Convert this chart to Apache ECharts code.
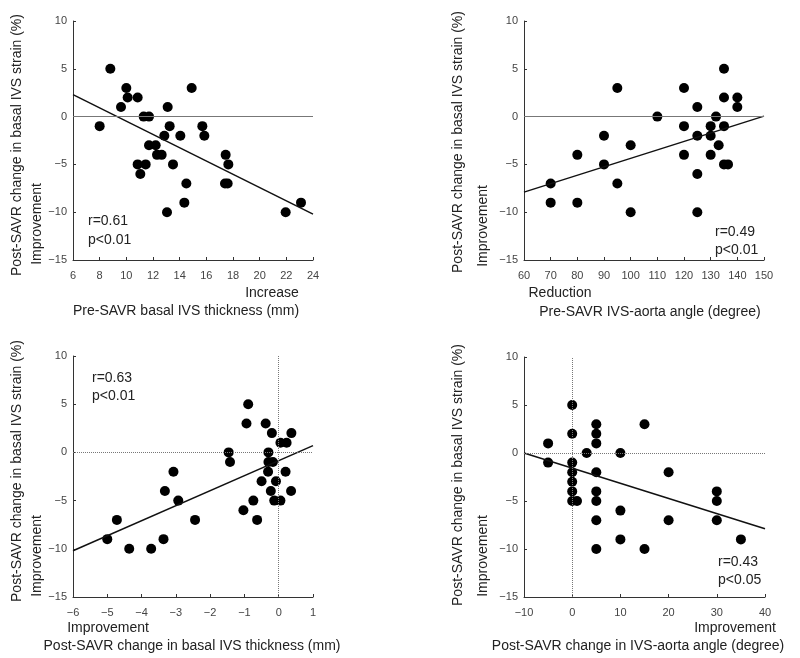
<!DOCTYPE html>
<html>
<head>
<meta charset="utf-8">
<script src="https://cdn.jsdelivr.net/npm/echarts@6/dist/echarts.min.js"></script>
<style>html,body{margin:0;padding:0;background:#fff}#c{width:800px;height:658px}</style>
</head>
<body>
<div id="c"></div>
<script>
// Panel A: Pre-SAVR basal IVS thickness (mm) vs change in strain
var aX = [8.8, 8, 10, 10.1, 9.6, 10.85, 11.3, 11.7, 11.7, 12.2, 12.3, 12.65, 10.85, 11.45, 11.05, 13.1, 13.25, 12.85, 14.05, 13.5, 14.9, 15.7, 15.85, 14.5, 14.35, 13.05, 17.45, 17.65, 17.4, 17.6, 21.95, 23.1];
var aY = [5, -1, 3, 2, 1, 2, 0, 0, -3, -3, -4, -4, -5, -5, -6, 1, -1, -2, -2, -5, 3, -1, -2, -7, -9, -10, -4, -5, -7, -7, -10, -9];
var aLineX = [6, 24];
var aLineY = [2.3, -10.2];

// Panel B: Pre-SAVR IVS-aorta angle (degree)
var bX = [70, 70, 80, 80, 90, 90, 95, 95, 100, 100, 110, 120, 120, 120, 125, 125, 125, 125, 130, 130, 130, 132, 133, 135, 135, 135, 135, 136.5, 140, 140];
var bY = [-7, -9, -4, -9, -2, -5, 3, -7, -3, -10, 0, 3, -1, -4, 1, -2, -6, -10, -1, -2, -4, 0, -3, 5, 2, -1, -5, -5, 2, 1];
var bLineX = [60, 150];
var bLineY = [-7.9, 0.05];

// Panel C: Post-SAVR change in basal IVS thickness (mm)
var cX = [-5, -4.72, -4.36, -3.72, -3.36, -3.32, -3.07, -2.93, -2.44, -1.46, -1.42, -0.89, -0.94, -1.03, -0.74, -0.63, -0.5, -0.38, -0.2, -0.3, -0.3, -0.17, -0.31, -0.23, -0.08, -0.13, 0.05, 0.05, 0.23, 0.2, 0.37, 0.36];
var cY = [-9, -7, -10, -10, -9, -4, -2, -5, -7, 0, -1, 5, 3, -6, -5, -7, -3, 3, 2, 0, -1, -1, -2, -4, -3, -5, -5, 1, 1, -2, 2, -4];
var cLineX = [-6, 1];
var cLineY = [-10.2, 0.7];

// Panel D: Post-SAVR change in IVS-aorta angle (degree)
var dX = [-5, -5, 0, 0, 0, 0, 0, 0, 0, 1, 3, 5, 5, 5, 5, 5, 5, 5, 5, 10, 10, 10, 15, 15, 20, 20, 30, 30, 30, 35];
var dY = [1, -1, 5, 2, -1, -2, -3, -4, -5, -5, 0, 3, 2, 1, -2, -4, -5, -7, -10, 0, -6, -9, 3, -10, -2, -7, -4, -5, -7, -9];
var dLineX = [-10, 40];
var dLineY = [0, -7.9];

var yTicks = {min: -15, max: 10, interval: 5};
var xTicks = [
  {min: 6, max: 24, interval: 2},
  {min: 60, max: 150, interval: 10},
  {min: -6, max: 1, interval: 1},
  {min: -10, max: 40, interval: 10}
];

function pairs(xs, ys) { return xs.map(function (x, i) { return [x, ys[i]]; }); }

var FONT = '"Liberation Sans", Arial, sans-serif';
var grids = [
  {left: 73, top: 21, width: 240, height: 239},
  {left: 524, top: 21, width: 240, height: 239},
  {left: 73, top: 356, width: 240, height: 241},
  {left: 524, top: 357, width: 241, height: 240}
];
function minusFmt(v) { return String(v).replace('-', '\u2212'); }
var axisCommon = {
  axisLine: {show: true, onZero: false, lineStyle: {color: '#333', width: 1}},
  axisTick: {show: true, inside: true, length: 3, lineStyle: {color: '#333'}},
  splitLine: {show: false},
  axisLabel: {color: '#444', fontSize: 11, fontFamily: FONT, formatter: minusFmt}
};
var xAxes = xTicks.map(function (t, i) {
  return Object.assign({type: 'value', gridIndex: i, min: t.min, max: t.max, interval: t.interval}, axisCommon,
    {axisLabel: Object.assign({}, axisCommon.axisLabel, {margin: 10})});
});
var yAxes = [0, 1, 2, 3].map(function (i) {
  return Object.assign({type: 'value', gridIndex: i, min: yTicks.min, max: yTicks.max, interval: yTicks.interval}, axisCommon,
    {axisLabel: Object.assign({}, axisCommon.axisLabel, {margin: 6})});
});

var sets = [[aX, aY, aLineX, aLineY], [bX, bY, bLineX, bLineY], [cX, cY, cLineX, cLineY], [dX, dY, dLineX, dLineY]];
var series = [];
sets.forEach(function (s, i) {
  var ml = [{yAxis: 0}];
  if (i >= 2) ml.push({xAxis: 0});
  series.push({
    type: 'scatter', xAxisIndex: i, yAxisIndex: i, symbolSize: 10,
    itemStyle: {color: '#000', opacity: 1}, data: pairs(s[0], s[1]), z: 3,
    markLine: {silent: true, symbol: 'none', animation: false, label: {show: false},
      lineStyle: {color: '#777', width: 1, type: i >= 2 ? 'dotted' : 'solid'}, data: ml}
  });
  series.push({
    type: 'line', xAxisIndex: i, yAxisIndex: i, symbol: 'none', z: 4,
    lineStyle: {color: '#111', width: 1.5}, data: pairs(s[2], s[3])
  });
});

function txt(x, y, t, opt) {
  opt = opt || {};
  return {type: 'text', x: x, y: y, rotation: opt.rot || 0, z: 10,
    style: {text: t, fill: '#222', font: (opt.size || 14) + 'px ' + FONT,
      textAlign: opt.align || 'center', textVerticalAlign: 'middle'}};
}
var ytitle = 'Post-SAVR change in basal IVS strain (%)';
var R = Math.PI / 2;
var graphics = [
  txt(17, 145, ytitle, {rot: R}), txt(37, 224, 'Improvement', {rot: R}),
  txt(458, 142, ytitle, {rot: R}), txt(483, 226, 'Improvement', {rot: R}),
  txt(17, 471, ytitle, {rot: R}), txt(37, 556, 'Improvement', {rot: R}),
  txt(458, 475, ytitle, {rot: R}), txt(483, 556, 'Improvement', {rot: R}),
  txt(272, 293, 'Increase'), txt(186, 311, 'Pre-SAVR basal IVS thickness (mm)'),
  txt(560, 293, 'Reduction'), txt(650, 312, 'Pre-SAVR IVS-aorta angle (degree)'),
  txt(108, 628, 'Improvement'), txt(192, 646, 'Post-SAVR change in basal IVS thickness (mm)'),
  txt(735, 628, 'Improvement'), txt(638, 646, 'Post-SAVR change in IVS-aorta angle (degree)'),
  txt(88, 221, 'r=0.61', {align: 'left'}), txt(88, 240, 'p<0.01', {align: 'left'}),
  txt(715, 232, 'r=0.49', {align: 'left'}), txt(715, 250, 'p<0.01', {align: 'left'}),
  txt(92, 378, 'r=0.63', {align: 'left'}), txt(92, 396, 'p<0.01', {align: 'left'}),
  txt(718, 562, 'r=0.43', {align: 'left'}), txt(718, 580, 'p<0.05', {align: 'left'})
];

var chart = echarts.init(document.getElementById('c'), null, {renderer: 'canvas'});
chart.setOption({
  animation: false,
  backgroundColor: '#fff',
  grid: grids,
  xAxis: xAxes,
  yAxis: yAxes,
  series: series,
  graphic: graphics
});
</script>
</body>
</html>
